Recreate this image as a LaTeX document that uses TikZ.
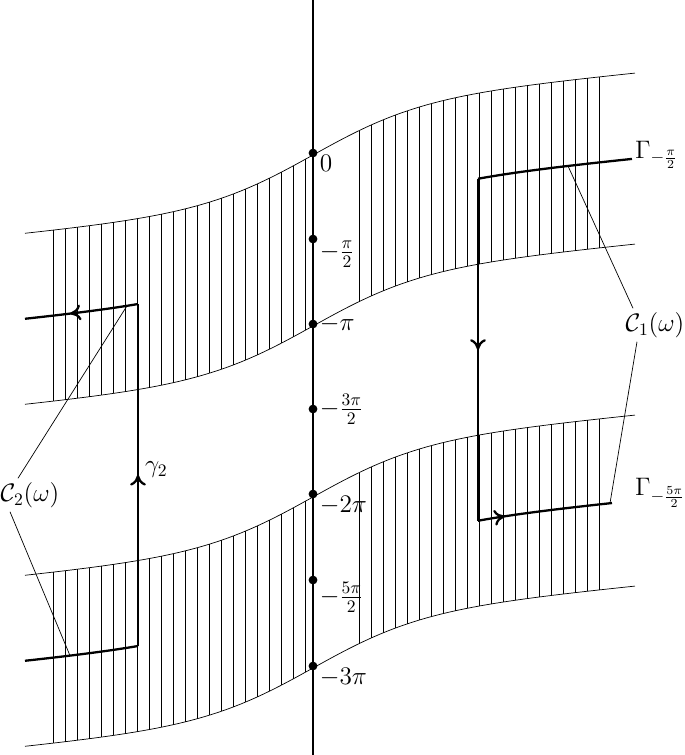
\documentclass[tikz,border=0pt]{standalone}
\usetikzlibrary{arrows.meta,decorations.markings}
\tikzset{
  midarrow/.style={postaction={decorate},decoration={markings,
      mark=at position #1 with {\arrow{To[length=6pt,width=9pt]}}}},
  contour/.style={line width=1.3pt},
  dot/.style={circle,fill,inner sep=0pt,minimum size=5pt},
  lbl/.style={font=\Large,inner sep=1pt}
}
\begin{document}
\begin{tikzpicture}[x=0.02cm,y=-0.02cm,
    declare function={f(\x)=155-50*tanh((\x-313)/110)-0.1*(\x-313);}]
  \useasboundingbox (0,0) rectangle (685,755);
  % bands
  \foreach \k in {0,171,342,513}
    \draw plot[domain=25:635,samples=80] (\x,{f(\x)+\k});
  \foreach \k in {0,342} {
    \foreach \x in {53,65,...,305}
      \draw (\x,{f(\x)+\k}) -- (\x,{f(\x)+\k+171});
    \foreach \x in {359,371,...,599}
      \draw (\x,{f(\x)+\k}) -- (\x,{f(\x)+\k+171});
  }
  % axis
  \draw[line width=1.1pt] (313,0) -- (313,755);
  \node[dot] (p0) at (313,153) {};
  \node[dot] (p1) at (313,239) {};
  \node[dot] (p2) at (313,324) {};
  \node[dot] (p3) at (313,409) {};
  \node[dot] (p4) at (313,494) {};
  \node[dot] (p5) at (313,580) {};
  \node[dot] (p6) at (313,666) {};
  \node[lbl,anchor=north west] (l0) at (p0.east) {$0$};
  \node[lbl,anchor=north west] (l1) at (p1.east) {$-\frac{\pi}{2}$};
  \node[lbl,anchor=west] (l2) at (p2.east) {$-\pi$};
  \node[lbl,anchor=west] (l3) at (p3.east) {$-\frac{3\pi}{2}$};
  \node[lbl,anchor=north west] (l4) at (p4.east) {$-2\pi$};
  \node[lbl,anchor=north west] (l5) at (p5.east) {$-\frac{5\pi}{2}$};
  \node[lbl,anchor=north west] (l6) at (p6.east) {$-3\pi$};
  % contours
  \coordinate (a1) at (138,{f(138)+85.5});
  \coordinate (a2) at (138,{f(138)+427.5});
  \coordinate (b1) at (478,{f(478)+85.5});
  \coordinate (b2) at (478,{f(478)+427.5});
  \draw[contour] plot[domain=478:632,samples=30] (\x,{f(\x)+85.5});
  \draw[contour,midarrow=0.2] (b2) plot[domain=478:612,samples=30] (\x,{f(\x)+427.5});
  \draw[contour,midarrow=0.6] plot[domain=138:25,samples=20] (\x,{f(\x)+85.5});
  \draw[contour] plot[domain=25:138,samples=20] (\x,{f(\x)+427.5});
  \draw[contour,midarrow=0.5] (a2) -- (a1);
  \draw[contour,midarrow=0.5] (b1) -- (b2);
  \node[lbl,anchor=west] (g2) at (143,470) {$\gamma_2$};
  \node[lbl,anchor=west] (G1) at (633,155) {$\Gamma_{-\frac{\pi}{2}}$};
  \node[lbl,anchor=west] (G2) at (633,493) {$\Gamma_{-\frac{5\pi}{2}}$};
  % labels of the cycles
  \node[lbl] (C1) at (655,325) {$\mathcal{C}_1(\omega)$};
  \node[lbl] (C2) at (30,495) {$\mathcal{C}_2(\omega)$};
  \coordinate (c1) at (568,{f(568)+85.5});
  \coordinate (c2) at (610,{f(610)+427.5});
  \coordinate (c3) at (127,{f(127)+85.5});
  \coordinate (c4) at (70,{f(70)+427.5});
  \draw (C1.north) ++(-22,-2) coordinate (e1) (c1) -- (e1);
  \draw (C1.south) ++(-18,2) coordinate (e2) (e2) -- (c2);
  \draw (C2.north) ++(-12,-2) coordinate (e3) (e3) -- (c3);
  \draw (C2.south) ++(-20,2) coordinate (e4) (e4) -- (c4);
\end{tikzpicture}
\end{document}
